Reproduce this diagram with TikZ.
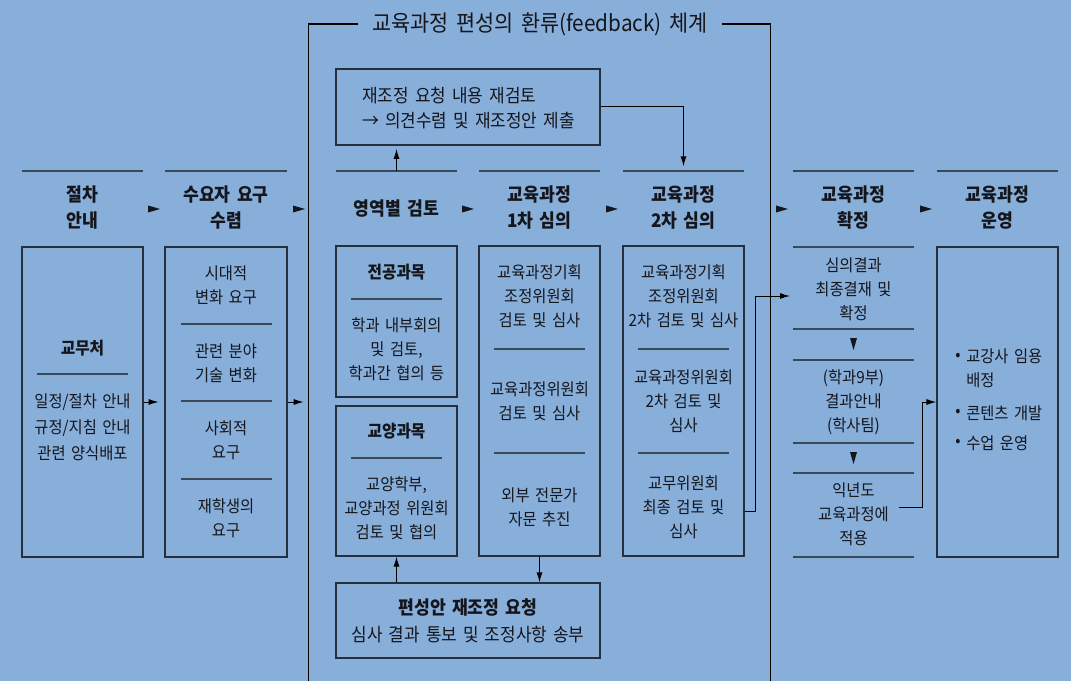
\documentclass[tikz,border=0pt]{standalone}
\usepackage{fontspec}
\setmainfont{Noto Sans CJK KR}[FakeStretch=0.92,WordSpace=1.6]
\usetikzlibrary{arrows.meta,fit}
\definecolor{bg}{RGB}{136,174,218}
\definecolor{ln}{RGB}{58,72,90}
\definecolor{bx}{RGB}{38,48,60}
\definecolor{tx}{RGB}{20,22,28}
\tikzset{
  txt/.style={text=tx,font=\fontsize{12.5}{18}\selectfont,align=center,inner sep=0pt},
  txtw/.style={text=tx,font=\fontsize{12.5}{19.5}\selectfont,align=center,inner sep=0pt},
  txtb/.style={text=tx,font=\fontsize{13.8}{18.75}\selectfont,align=center,inner sep=0pt},
  hd/.style={text=tx,font=\fontsize{14}{19.5}\selectfont\bfseries,align=center,inner sep=0pt},
  bt/.style={text=tx,font=\fontsize{12.8}{18}\selectfont\bfseries,align=center,inner sep=0pt},
  btb/.style={text=tx,font=\fontsize{14}{18}\selectfont\bfseries,align=center,inner sep=0pt},
  ttl/.style={text=tx,font=\fontsize{16.9}{18}\selectfont,inner sep=0pt},
  boxn/.style={draw=bx,line width=0.9pt,inner sep=0pt},
  area/.style={inner sep=0pt},
  hline/.style={draw=ln,line width=1.1pt},
  divl/.style={draw=ln,line width=0.9pt},
  frameln/.style={draw=black,line width=0.8pt},
  conn/.style={draw=black,line width=0.75pt,-{Latex[length=7.5pt,width=4.5pt]}}
}
\newcommand\rtri[2]{\fill[tx] (#1-12,#2-3.5) -- (#1,#2) -- (#1-12,#2+3.5) -- cycle;}
\newcommand\dtri[2]{\fill[tx] (#1-3.5,#2-6) -- (#1+3.5,#2-6) -- (#1,#2+6) -- cycle;}
\begin{document}
\begin{tikzpicture}[x=0.75pt,y=-0.75pt]
\fill[bg] (0,0) rectangle (1071,681);
\useasboundingbox (0,0) rectangle (1071,681);

% outer feedback frame
\node[area,fit={(309,23)(770,681)}] (frame) {};
\node[ttl] (title) at (540,24) {교육과정 편성의 환류(feedback) 체계};
\draw[frameln] (358,24) -- (title.west -| frame.west) -- (frame.south west);
\draw[frameln] (722,24) -- (title.east -| frame.east) -- (frame.south east);

% header lines
\foreach \a/\b in {22/143,165/287,336/457,479/600,623/744,793/914,937/1058}
  \draw[hline] (\a,171) -- (\b,171);
\coordinate (h3top) at (396.5,171);
\coordinate (h5top) at (683.5,171);

% headers
\node[hd] (h1) at (82.5,208) {절차\\안내};
\node[hd] (h2) at (226,208) {수요자 요구\\수렴};
\node[hd] (h3) at (396.5,209) {영역별 검토};
\node[hd] (h4) at (539.5,208) {교육과정\\1차 심의};
\node[hd] (h5) at (683.5,208) {교육과정\\2차 심의};
\node[hd] (h6) at (853.5,208) {교육과정\\확정};
\node[hd] (h7) at (997.5,208) {교육과정\\운영};
\rtri{160}{209}
\rtri{305}{209}
\rtri{474}{209}
\rtri{618}{209}
\rtri{788}{209}
\rtri{932}{209}

% column 1
\node[boxn,fit={(22,247)(143,557)}] (b1) {};
\node[bt] (b1a) at (82.5,348) {교무처};
\draw[divl] (37,374) -- (128,374);
\node[txtw] (b1b) at (82.5,427) {일정/절차 안내\\규정/지침 안내\\관련 양식배포};

% column 2
\node[boxn,fit={(165,247)(287,557)}] (b2) {};
\node[txt] (b2a) at (226,285) {시대적\\변화 요구};
\draw[divl] (181,324) -- (272,324);
\node[txt] (b2b) at (226,363) {관련 분야\\기술 변화};
\draw[divl] (181,401) -- (272,401);
\node[txt] (b2c) at (226,440) {사회적\\요구};
\draw[divl] (181,479) -- (272,479);
\node[txt] (b2d) at (226,518) {재학생의\\요구};

% top re-review box
\node[boxn,fit={(336,69)(600,145)}] (tb) {};
\node[txtb,align=left,anchor=west] (tbt) at (362,108) {재조정 요청 내용 재검토\\→ 의견수렴 및 재조정안 제출};

% column 3
\node[boxn,fit={(336,246)(457,397)}] (g1) {};
\node[bt] (g1a) at (396.5,272) {전공과목};
\draw[divl] (351,299) -- (442,299);
\node[txt] (g1b) at (396.5,349) {학과 내부회의\\및 검토,\\학과간 협의 등};
\node[boxn,fit={(336,406)(457,556)}] (g2) {};
\node[bt] (g2a) at (396.5,431) {교양과목};
\draw[divl] (351,458) -- (442,458);
\node[txt] (g2b) at (396.5,508) {교양학부,\\교양과정 위원회\\검토 및 협의};

% column 4
\node[boxn,fit={(479,246)(600,556)}] (b4) {};
\node[txt] (b4a) at (539.5,296) {교육과정기획\\조정위원회\\검토 및 심사};
\draw[divl] (494,349) -- (585,349);
\node[txt] (b4b) at (539.5,401) {교육과정위원회\\검토 및 심사};
\draw[divl] (494,453) -- (585,453);
\node[txt] (b4c) at (539.5,507) {외부 전문가\\자문 추진};

% column 5
\node[boxn,fit={(623,246)(744,556)}] (b5) {};
\node[txt] (b5a) at (683.5,296) {교육과정기획\\조정위원회\\2차 검토 및 심사};
\draw[divl] (638,349) -- (729,349);
\node[txt] (b5b) at (683.5,401) {교육과정위원회\\2차 검토 및\\심사};
\draw[divl] (638,453) -- (729,453);
\node[txt] (b5c) at (683.5,507) {교무위원회\\최종 검토 및\\심사};

% bottom request box
\node[boxn,fit={(336,583)(600,658)}] (bb) {};
\node[btb] (bba) at (468,608) {편성안 재조정 요청};
\node[txtb] (bbb) at (468,635) {심사 결과 통보 및 조정사항 송부};

% column 6
\foreach \y in {247,329,360,443,473,557}
  \draw[hline] (793,\y) -- (914,\y);
\node[txt] (c6a) at (853.5,289) {심의결과\\최종결재 및\\확정};
\dtri{853.5}{344}
\node[txt] (c6b) at (853.5,402) {(학과9부)\\결과안내\\(학사팀)};
\dtri{853.5}{458}
\node[txt] (c6c) at (853.5,514) {익년도\\교육과정에\\적용};
\coordinate (c6in) at (790,296);
\coordinate (c6out) at (899,507);

% column 7
\node[boxn,fit={(937,247)(1058,557)}] (b7) {};
\node[txt] (d1) at (958,357) {•};
\node[txt,align=left,anchor=west] (b7a) at (966,368.5) {교강사 임용\\배정};
\node[txt] (d2) at (958,413) {•};
\node[txt,anchor=west] (b7b) at (966,413) {콘텐츠 개발};
\node[txt] (d3) at (958,443) {•};
\node[txt,anchor=west] (b7c) at (966,443) {수업 운영};

% connectors
\draw[conn,shorten >=4.3pt] (b1.east) -- (b2.west);
\draw[conn,shorten >=3.8pt] (b2.east) -- (b2.east -| frame.west);
\draw[conn,shorten >=2.5pt] (h3top) -- (tb.south -| h3top);
\draw[conn,shorten >=3.5pt] (tb.east) -| (h5top);
\draw[conn] (bb.north -| g2.south) -- (g2.south);
\draw[conn] (b4.south) -- (b4.south |- bb.north);
\draw[conn] (b5.south east) ++(0,-45) -- ++(11,0) |- (c6in);
\draw[conn] (c6out) -- ++(23,0) |- (b7.west);
\end{tikzpicture}
\end{document}
